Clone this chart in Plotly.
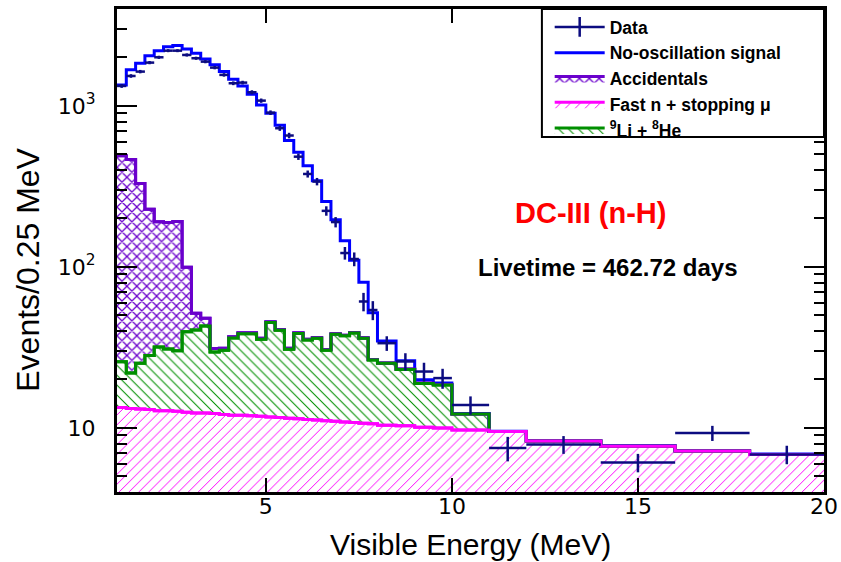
import numpy as np
import plotly.graph_objects as go

# ---------------- data ----------------
bin_edges = [1.0, 1.25, 1.5, 1.75, 2.0, 2.25, 2.5, 2.75, 3.0, 3.25, 3.5, 3.75,
             4.0, 4.25, 4.5, 4.75, 5.0, 5.25, 5.5, 5.75, 6.0, 6.25, 6.5, 6.75,
             7.0, 7.25, 7.5, 7.75, 8.0, 8.5, 9.0, 9.5, 10.0, 11.0, 12.0, 14.0,
             16.0, 18.0, 20.0]

# background / signal components, events per 0.25 MeV
fast_n = [13.4, 13.2, 13.1, 13.0, 12.8, 12.8, 12.7, 12.5, 12.4, 12.4, 12.3, 12.1,
          12.0, 12.0, 11.9, 11.8, 11.7, 11.6, 11.5, 11.4, 11.3, 11.2, 11.1, 11.0,
          10.9, 10.8, 10.7, 10.6, 10.4, 10.3, 10.1, 10.0, 9.7, 9.5, 8.3, 7.7,
          7.2, 6.85]
li_he = [12.4, 8.7, 12.1, 15.2, 19.0, 18.1, 17.5, 27.1, 28.2, 30.6, 17.3, 18.3,
         24.2, 26.4, 26.5, 23.7, 33.5, 28.8, 19.3, 27.2, 23.9, 24.9, 19.3, 27.2,
         26.5, 28.1, 25.4, 15.8, 14.8, 12.8, 8.8, 8.5, 2.5, 0.0, 0.0, 0.0,
         0.0, 0.0]
accidentals = [464, 443, 305, 200, 159, 158, 161, 60, 11, 5, 1.5, 0.8,
               0.7, 0.6, 0.6, 0.5, 0.5, 0.4, 0.4, 0.4, 0.3, 0.3, 0.3, 0.3,
               0.2, 0.2, 0.2, 0.2, 0.1, 0.1, 0.1, 0.1, 0.0, 0.0, 0.0, 0.0,
               0.0, 0.0]
signal = [860, 1210, 1512, 1818, 2013, 2145, 2179, 2159, 2071, 1910, 1768, 1603,
          1429, 1292, 1143, 978, 855, 719, 579, 477, 390, 306, 224, 158,
          108, 71, 44, 25.4, 9.4, 2.9, 0.9, 0.4, 0.1, 0.05, 0.05, 0.05,
          0.05, 0.05]

data_vals = [1331, 1535, 1634, 1858, 2005, 2204, 2204, 2073, 1978, 1884, 1730, 1559,
             1383, 1396, 1216, 1079, 908, 727, 655, 484, 378, 339, 223, 190,
             122, 112, 61, 54, 33.6, 25.9, 22.4, 20.4, 13.9, 7.5, 7.9, 6.1,
             9.3, 6.85]
data_err = [36, 39, 40, 43, 45, 47, 47, 46, 44, 43, 42, 39,
            37, 37, 35, 33, 30, 27, 26, 22, 19, 18, 15, 14,
            11, 11, 8, 7.3, 3.5, 3.2, 3.0, 2.9, 1.8, 1.3, 1.0, 0.8,
            1.0, 0.9]

x_ticks = [5, 10, 15, 20]
y_ticks = [10, 100, 1000]
y_ticktext = ["10", "10<sup>2</sup>", "10<sup>3</sup>"]

# ---------------- styling ----------------
NAVY = "#0c0c80"
BLUE = "#0000ff"
PURPLE = "#6a00cc"
MAGENTA = "#ff00ff"
GREEN = "#008f00"
FONT = "Liberation Sans, Arial"

edges = np.array(bin_edges)
centers = 0.5 * (edges[:-1] + edges[1:])
halfw = 0.5 * (edges[1:] - edges[:-1])

cum_fast = np.array(fast_n, dtype=float)
cum_li = cum_fast + np.array(li_he, dtype=float)
cum_acc = cum_li + np.array(accidentals, dtype=float)
cum_tot = cum_acc + np.array(signal, dtype=float)


def steps(vals):
    return list(edges), list(vals) + [vals[-1]]


fig = go.Figure()

# filled stack (bottom to top)
xs, ys = steps(cum_fast)
fig.add_trace(go.Scatter(
    x=xs, y=ys, mode="lines", line=dict(shape="hv", color=MAGENTA, width=3),
    fill="tozeroy", fillcolor="rgba(0,0,0,0)",
    fillpattern=dict(shape="/", fgcolor=MAGENTA, bgcolor="white", size=7,
                     solidity=0.14, fgopacity=1),
    name="<b>Fast n + stopping μ</b>", legendrank=4, hoverinfo="skip"))
xs, ys = steps(cum_li)
fig.add_trace(go.Scatter(
    x=xs, y=ys, mode="lines", line=dict(shape="hv", color=GREEN, width=3),
    fill="tonexty", fillcolor="rgba(0,0,0,0)",
    fillpattern=dict(shape="\\", fgcolor=GREEN, bgcolor="white", size=7,
                     solidity=0.15, fgopacity=1),
    name="<b><sup>9</sup>Li + <sup>8</sup>He</b>", legendrank=5, hoverinfo="skip"))
xs, ys = steps(cum_acc)
fig.add_trace(go.Scatter(
    x=xs, y=ys, mode="lines", line=dict(shape="hv", color=PURPLE, width=3),
    fill="tonexty", fillcolor="rgba(0,0,0,0)",
    fillpattern=dict(shape="x", fgcolor=PURPLE, bgcolor="white", size=7,
                     solidity=0.33, fgopacity=1),
    name="<b>Accidentals</b>", legendrank=3, hoverinfo="skip"))

# total prediction (no-oscillation)
xs, ys = steps(cum_tot)
fig.add_trace(go.Scatter(
    x=xs, y=ys, mode="lines", line=dict(shape="hv", color=BLUE, width=3),
    name="<b>No-oscillation signal</b>", legendrank=2, hoverinfo="skip"))

# redraw outlines on top in ROOT stack order
for cum, col in ((cum_acc, PURPLE), (cum_li, GREEN), (cum_fast, MAGENTA)):
    xs, ys = steps(cum)
    fig.add_trace(go.Scatter(x=xs, y=ys, mode="lines",
                             line=dict(shape="hv", color=col, width=3),
                             showlegend=False, hoverinfo="skip"))

# data with error crosses
fig.add_trace(go.Scatter(
    x=centers, y=data_vals, mode="markers",
    marker=dict(size=1, color=NAVY),
    error_x=dict(type="data", array=halfw, color=NAVY, thickness=2.5, width=0),
    error_y=dict(type="data", array=data_err, color=NAVY, thickness=2.5, width=0),
    showlegend=False, hoverinfo="skip"))
# legend entry for data (cross symbol)
fig.add_trace(go.Scatter(
    x=[None], y=[None], mode="lines+markers",
    line=dict(color=NAVY, width=2.5),
    marker=dict(symbol="line-ns", size=14, line=dict(color=NAVY, width=2.5)),
    name="<b>Data</b>", legendrank=1))

fig.add_annotation(x=0.670, y=0.578, xref="paper", yref="paper",
                   xanchor="center", yanchor="middle",
                   text="<b>DC-III (n-H)</b>", showarrow=False,
                   font=dict(family=FONT, size=29, color="#ff0000"))
fig.add_annotation(x=0.695, y=0.464, xref="paper", yref="paper",
                   xanchor="center", yanchor="middle",
                   text="<b>Livetime = 462.72 days</b>", showarrow=False,
                   font=dict(family=FONT, size=24, color="black"))
# axis titles
fig.add_annotation(x=-0.126, y=0.46, xref="paper", yref="paper",
                   xanchor="center", yanchor="middle", textangle=-90,
                   text="Events/0.25 MeV", showarrow=False,
                   font=dict(family=FONT, size=32, color="black"))
fig.add_annotation(x=0.5007, y=-0.1097, xref="paper", yref="paper",
                   xanchor="center", yanchor="middle",
                   text="Visible Energy (MeV)", showarrow=False,
                   font=dict(family=FONT, size=30, color="black"))

# legend frame
fig.add_shape(type="rect", xref="paper", yref="paper",
              x0=0.601, x1=1.0, y0=0.735, y1=1.0,
              fillcolor="white", line=dict(color="black", width=2),
              layer="above")

fig.update_xaxes(
    range=[1, 20], tickvals=x_ticks, ticks="inside", ticklen=14, tickwidth=1.5,
    tickcolor="black", showline=True, linewidth=3, linecolor="black",
    mirror="allticks", showgrid=False, zeroline=False, automargin=False,
    ticklabelstandoff=-7,
    tickfont=dict(family="DejaVu Sans", size=22, color="black"))
fig.update_yaxes(
    type="log", range=[np.log10(4), np.log10(4000)],
    tickvals=y_ticks, ticktext=y_ticktext, ticks="inside", ticklen=20,
    tickwidth=1.5, tickcolor="black", showline=True, linewidth=3,
    linecolor="black", mirror="allticks", showgrid=False, zeroline=False,
    automargin=False,
    minor=dict(ticks="inside", ticklen=10, tickwidth=1.5, tickcolor="black",
               dtick="D1", showgrid=False),
    ticklabelstandoff=14,
    tickfont=dict(family="DejaVu Sans", size=22, color="black"))

fig.update_layout(
    width=841, height=562,
    margin=dict(l=117, r=17, t=9, b=70),
    paper_bgcolor="white", plot_bgcolor="white",
    legend=dict(x=0.612, y=1.0, xanchor="left", yanchor="top",
                bgcolor="rgba(0,0,0,0)", borderwidth=0,
                font=dict(family=FONT, size=17.5, color="black"),
                itemwidth=50, tracegroupgap=0, traceorder="normal"),
)

fig.write_html("out.html")
